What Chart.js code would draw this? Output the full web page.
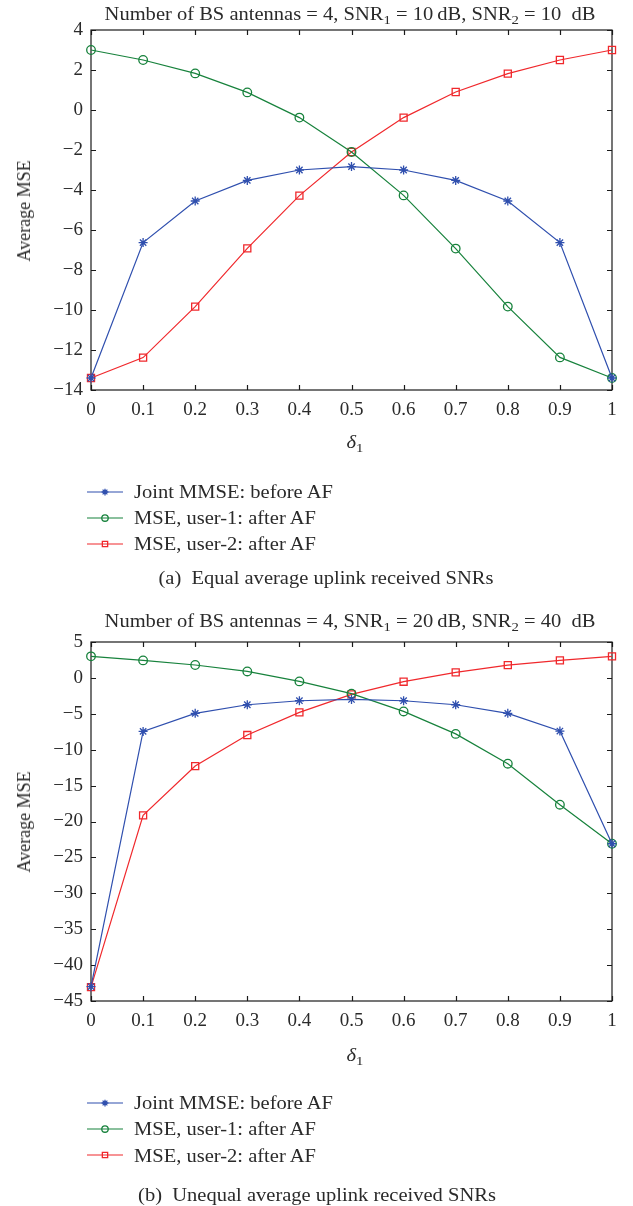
<!DOCTYPE html>
<html>
<head>
<meta charset="utf-8">
<script src="https://cdn.jsdelivr.net/npm/chart.js@4.4.1/dist/chart.umd.min.js"></script>
<style>
  html, body { margin: 0; padding: 0; background: #fff; }
  body { width: 633px; height: 1206px; position: relative; overflow: hidden;
         font-family: 'Liberation Serif', 'DejaVu Serif', serif; color: #2a2a2a; }
  .panel { position: absolute; left: 0; }
  canvas { display: block; }
  .t { position: absolute; white-space: nowrap; font-size: 18px; line-height: 1; }
  .c { transform: translate(-50%, -50%) scaleX(1.14); }
  .l { transform-origin: 0 50%; transform: translate(0, -50%) scaleX(1.14); }
  .ylab { transform: translate(-50%, -50%) rotate(-90deg); }
  sub { font-size: 0.72em; vertical-align: -0.3em; line-height: 0; }
</style>
</head>
<body>

<div class="panel" style="top:0"><canvas id="chartA" width="633" height="600"></canvas></div>
<div class="panel" style="top:600px"><canvas id="chartB" width="633" height="606"></canvas></div>

<!-- panel (a) texts -->
<div class="t c" style="left:350px; top:14px">Number of BS antennas = 4, SNR<sub>1</sub> = 10&#8201;dB, SNR<sub>2</sub> = 10&nbsp; dB</div>
<div class="t ylab" style="left:24px; top:211px">Average MSE</div>
<div class="t c" style="left:355px; top:442px"><i>δ</i><sub>1</sub></div>
<div class="t l" style="left:134px; top:492px">Joint MMSE: before AF</div>
<div class="t l" style="left:134px; top:518px">MSE, user-1: after AF</div>
<div class="t l" style="left:134px; top:544px">MSE, user-2: after AF</div>
<div class="t c" style="left:326px; top:578px">(a)&nbsp; Equal average uplink received SNRs</div>

<!-- panel (b) texts -->
<div class="t c" style="left:350px; top:621px">Number of BS antennas = 4, SNR<sub>1</sub> = 20&#8201;dB, SNR<sub>2</sub> = 40&nbsp; dB</div>
<div class="t ylab" style="left:24px; top:822px">Average MSE</div>
<div class="t c" style="left:355px; top:1055px"><i>δ</i><sub>1</sub></div>
<div class="t l" style="left:134px; top:1103px">Joint MMSE: before AF</div>
<div class="t l" style="left:134px; top:1129px">MSE, user-1: after AF</div>
<div class="t l" style="left:134px; top:1156px">MSE, user-2: after AF</div>
<div class="t c" style="left:317px; top:1195px">(b)&nbsp; Unequal average uplink received SNRs</div>

<script>
// power split delta_1
const delta = [0, 0.1, 0.2, 0.3, 0.4, 0.5, 0.6, 0.7, 0.8, 0.9, 1];

// (a) SNR1 = SNR2 = 10 dB
const jointA = [-13.4, -6.63, -4.55, -3.52, -3.0, -2.83, -3.0, -3.52, -4.55, -6.63, -13.4];
const user1A = [3.0, 2.5, 1.83, 0.88, -0.38, -2.1, -4.27, -6.93, -9.83, -12.37, -13.4];
const user2A = [-13.4, -12.38, -9.83, -6.92, -4.28, -2.1, -0.38, 0.9, 1.82, 2.5, 3.0];

// (b) SNR1 = 20 dB, SNR2 = 40 dB
const jointB = [-43.0, -7.45, -4.94, -3.74, -3.18, -3.0, -3.18, -3.74, -4.94, -7.4, -23.1];
const user1B = [3.0, 2.44, 1.8, 0.9, -0.49, -2.2, -4.67, -7.8, -11.95, -17.66, -23.1];
const user2B = [-43.06, -19.15, -12.28, -7.96, -4.8, -2.3, -0.53, 0.77, 1.78, 2.44, 3.0];

const seriesNames = ['Joint MMSE: before AF', 'MSE, user-1: after AF', 'MSE, user-2: after AF'];

const BLUE = '#2f4fae', GREEN = '#17823c', RED = '#f0282c';
const FONT = "'Liberation Serif', 'DejaVu Serif', serif";

const pts = ys => delta.map((x, i) => ({ x, y: ys[i] }));
const fmt = v => {
  const r = Math.round(v * 10) / 10;
  return (r < 0 ? '\u2212' : '') + Math.abs(r);
};

// box around the plot with ticks pointing inward on every side
const frameTicks = {
  id: 'frameTicks',
  beforeDatasetsDraw(chart) {
    const { ctx, chartArea: a, scales: { x, y } } = chart;
    const len = 5;
    ctx.save();
    ctx.strokeStyle = '#1a1a1a';
    ctx.lineWidth = 1.2;
    ctx.strokeRect(a.left, a.top, a.right - a.left, a.bottom - a.top);
    ctx.beginPath();
    x.ticks.forEach(t => {
      const px = Math.round(x.getPixelForValue(t.value)) + 0.5;
      ctx.moveTo(px, a.bottom); ctx.lineTo(px, a.bottom - len);
      ctx.moveTo(px, a.top); ctx.lineTo(px, a.top + len);
    });
    y.ticks.forEach(t => {
      const py = Math.round(y.getPixelForValue(t.value)) + 0.5;
      ctx.moveTo(a.left, py); ctx.lineTo(a.left + len, py);
      ctx.moveTo(a.right, py); ctx.lineTo(a.right - len, py);
    });
    ctx.stroke();
    ctx.restore();
  }
};

// line + marker samples for the legend rows under the axis
const legendGlyphs = {
  id: 'legendGlyphs',
  afterDraw(chart, args, opts) {
    const { ctx, chartArea: a } = chart;
    chart.data.datasets.forEach((ds, i) => {
      const yy = a.bottom + opts.rows[i];
      ctx.save();
      ctx.strokeStyle = ds.borderColor;
      ctx.lineWidth = ds.borderWidth;
      ctx.beginPath();
      ctx.moveTo(opts.x0, yy);
      ctx.lineTo(opts.x1, yy);
      ctx.stroke();
      ctx.fillStyle = 'rgba(0,0,0,0)';
      ctx.lineWidth = ds.pointBorderWidth;
      Chart.helpers.drawPoint(ctx, {
        pointStyle: ds.pointStyle, rotation: 0,
        radius: ds.pointRadius * 0.75, borderWidth: ds.pointBorderWidth
      }, (opts.x0 + opts.x1) / 2, yy);
      ctx.restore();
    });
  }
};

function makeDatasets(joint, user1, user2) {
  const base = { borderWidth: 1.2, pointBorderWidth: 1.3, pointBackgroundColor: 'rgba(0,0,0,0)', clip: false, tension: 0 };
  return [
    { ...base, label: seriesNames[0], data: pts(joint), borderColor: BLUE, pointBorderColor: BLUE, pointStyle: 'star', pointRadius: 4.5 },
    { ...base, label: seriesNames[1], data: pts(user1), borderColor: GREEN, pointBorderColor: GREEN, pointStyle: 'circle', pointRadius: 4.3 },
    { ...base, label: seriesNames[2], data: pts(user2), borderColor: RED, pointBorderColor: RED, pointStyle: 'rect', pointRadius: 5 }
  ];
}

function makeChart(id, datasets, yMin, yMax, yStep, top, xAxisHeight) {
  return new Chart(document.getElementById(id), {
    type: 'line',
    data: { datasets },
    options: {
      responsive: false,
      animation: false,
      events: [],
      layout: { padding: { left: 0, right: 21, top, bottom: 0 } },
      plugins: {
        legend: { display: false },
        tooltip: { enabled: false },
        legendGlyphs: { rows: [102, 128, 154], x0: 87, x1: 123 }
      },
      scales: {
        x: {
          type: 'linear', min: 0, max: 1,
          grid: { display: false, drawTicks: false },
          border: { display: false },
          ticks: { stepSize: 0.1, padding: 9, color: '#2a2a2a', font: { family: FONT, size: 19 }, maxRotation: 0, callback: fmt },
          afterFit: s => { s.height = xAxisHeight; }
        },
        y: {
          min: yMin, max: yMax,
          grid: { display: false, drawTicks: false },
          border: { display: false },
          ticks: { stepSize: yStep, padding: 8, color: '#2a2a2a', font: { family: FONT, size: 19 }, callback: fmt },
          afterFit: s => { s.width = 91; }
        }
      }
    },
    plugins: [frameTicks, legendGlyphs]
  });
}

makeChart('chartA', makeDatasets(jointA, user1A, user2A), -14, 4, 2, 30, 210);
makeChart('chartB', makeDatasets(jointB, user1B, user2B), -45, 5, 5, 42, 205);
</script>
</body>
</html>
